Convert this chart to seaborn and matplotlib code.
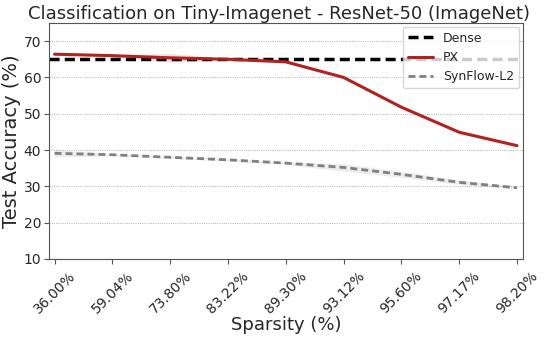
import matplotlib
matplotlib.use("Agg")
import matplotlib.pyplot as plt
import seaborn as sns
import numpy as np
import pandas as pd

sparsity_labels = ["36.00%", "59.04%", "73.80%", "83.22%", "89.30%", "93.12%", "95.60%", "97.17%", "98.20%"]
dense_acc = 65.0
px_mean = [66.4, 66.0, 65.4, 65.0, 64.3, 60.0, 51.8, 44.9, 41.2]
px_sd = [0.2, 0.2, 1.2, 0.2, 0.4, 0.3, 0.3, 0.4, 0.3]
syn_mean = [39.1, 38.7, 38.0, 37.3, 36.4, 35.2, 33.3, 31.1, 29.6]
syn_sd = [1.0, 0.3, 0.3, 0.3, 0.4, 1.0, 0.8, 0.6, 0.3]

sns.set_style("white")
fig = plt.figure(figsize=(5.48, 3.38), dpi=100)
ax = fig.add_axes([0.089, 0.234, 0.865, 0.698])

x = np.arange(len(sparsity_labels))
df = pd.DataFrame({"x": np.concatenate([x, x]),
                   "acc": px_mean + syn_mean,
                   "method": ["PX"] * len(x) + ["SynFlow-L2"] * len(x)})

ax.axhline(dense_acc, color="black", ls=(0, (2.9, 1.5)), lw=2.5, label="Dense", zorder=2)
sns.lineplot(data=df[df.method == "PX"], x="x", y="acc", color="#B22222", lw=2.2, ax=ax, label="PX", zorder=3)
ax.fill_between(x, np.array(px_mean) - px_sd, np.array(px_mean) + px_sd, color="#B22222", alpha=0.15, lw=0)
sns.lineplot(data=df[df.method == "SynFlow-L2"], x="x", y="acc", color="gray", lw=2.0, ls=(0, (2.5, 1.45)), ax=ax, label="SynFlow-L2", zorder=3)
ax.fill_between(x, np.array(syn_mean) - syn_sd, np.array(syn_mean) + syn_sd, color="gray", alpha=0.15, lw=0)

ax.set_xlim(-0.1, 8.1)
ax.set_ylim(10, 75)
ax.set_yticks([10, 20, 30, 40, 50, 60, 70])
ax.set_xticks(x)
ax.set_xticklabels(sparsity_labels, rotation=45, fontsize=10)
ax.tick_params(axis="y", labelsize=10, pad=2)
ax.tick_params(axis="both", which="major", bottom=True, left=True, length=3.5, color="#555555")
ax.yaxis.grid(True, ls=":", color="#999999", lw=0.6)
for s in ax.spines.values():
    s.set_color("#555555")
ax.set_xlabel("Sparsity (%)", fontsize=13, labelpad=0)
ax.set_ylabel("Test Accuracy (%)", fontsize=14, labelpad=2)
ax.set_title("Classification on Tiny-Imagenet - ResNet-50 (ImageNet)", fontsize=13, pad=3, x=0.486)
ax.legend(loc="upper right", fontsize=9, framealpha=0.8, borderaxespad=0.3)

fig.savefig("out.png", dpi=100)
